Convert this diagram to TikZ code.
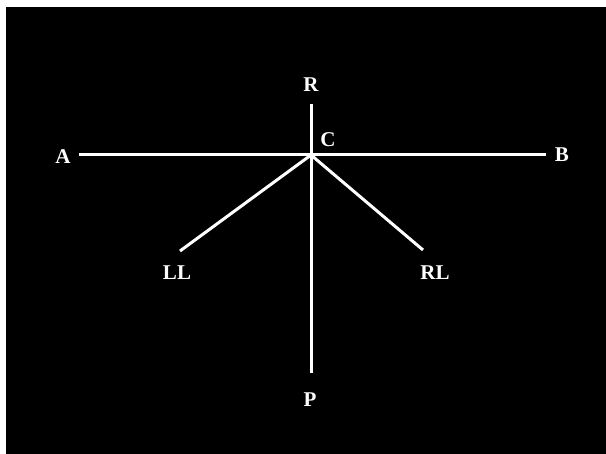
\documentclass[tikz,border=0pt]{standalone}
\usepackage{fontspec}
\setmainfont{Liberation Serif}
\begin{document}
\begin{tikzpicture}[x=1pt,y=-1pt,
  lbl/.style={text=white,font=\fontsize{21}{24}\selectfont\bfseries,inner sep=0pt},
  seg/.style={draw=white,line width=3pt}]
\useasboundingbox (0,0) rectangle (606,454);
\fill[white] (0,0) rectangle (606,454);
\fill[black] (6,7) rectangle (606,454);
\coordinate (C) at (311,155);
\coordinate (Aend) at (79,155);
\coordinate (Bend) at (546,155);
\coordinate (Rend) at (311,104);
\coordinate (Pend) at (311,373);
\coordinate (LLend) at (180,251);
\coordinate (RLend) at (423,250);
\draw[seg] (Aend) -- (Bend);
\draw[seg] (Rend) -- (Pend);
\draw[seg] (C) -- (LLend);
\draw[seg] (C) -- (RLend);
\node[lbl] (A) at (63,157) {A};
\node[lbl] (B) at (562,155) {B};
\node[lbl] (R) at (311,85) {R};
\node[lbl] (Cl) at (328,140) {C};
\node[lbl] (LL) at (177,273) {LL};
\node[lbl] (RL) at (435,273) {RL};
\node[lbl] (P) at (310,400) {P};
\end{tikzpicture}
\end{document}
